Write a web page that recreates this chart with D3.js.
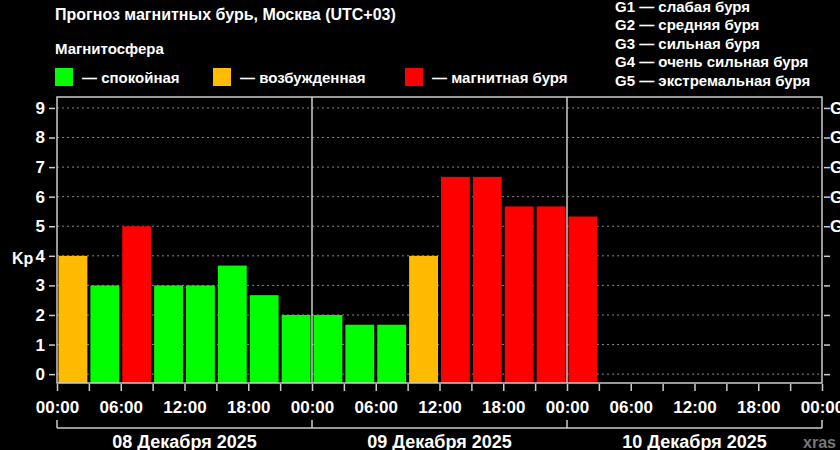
<!DOCTYPE html>
<html><head><meta charset="utf-8">
<script src="https://cdn.jsdelivr.net/npm/d3@7"></script>
<style>
body{margin:0;background:#000;}
text{font-family:"Liberation Sans",Arial,sans-serif;font-weight:bold;fill:#fff;}
.narrow{font-family:"Liberation Sans Narrow","Liberation Sans",Arial,sans-serif;}
</style></head>
<body><svg id="chart" width="840" height="450"></svg>
<script>
var kpValues = [4,3,5,3,3,3.67,2.67,2, 2,1.67,1.67,4,6.67,6.67,5.67,5.67, 5.33];
var dayLabels = ["08 Декабря 2025","09 Декабря 2025","10 Декабря 2025"];
var gLevels = ["G1 — слабая буря","G2 — средняя буря","G3 — сильная буря","G4 — очень сильная буря","G5 — экстремальная буря"];
var legendItems = [["— спокойная","#00ff00"],["— возбужденная","#ffbb00"],["— магнитная буря","#ff0000"]];
var hourLabels = ["00:00","06:00","12:00","18:00"];

var svg = d3.select("#chart");
var pLeft=57, pRight=822, pTop=97, pBottom=383;
var x = d3.scaleLinear().domain([0,72]).range([pLeft,pRight]); // часы
var y = d3.scaleLinear().domain([-0.3,9.37]).range([pBottom,pTop]);

function barColor(v){ return v>=5 ? "#ff0000" : (v>=4 ? "#ffbb00" : "#00ff00"); }

// заголовки
svg.append("text").attr("x",55).attr("y",20).attr("font-size",16).text("Прогноз магнитных бурь, Москва (UTC+03)");
svg.append("text").attr("x",55).attr("y",54).attr("font-size",15).text("Магнитосфера");
var legX=[55,213,405];
legendItems.forEach(function(d,i){
  svg.append("rect").attr("x",legX[i]).attr("y",68).attr("width",18).attr("height",18).attr("fill",d[1]);
  svg.append("text").attr("x",legX[i]+27).attr("y",83).attr("font-size",15).text(d[0]);
});
gLevels.forEach(function(d,i){
  svg.append("text").attr("x",615).attr("y",12+i*18.4).attr("font-size",15).text(d);
});

// сетка
svg.selectAll(".grid").data(d3.range(0,10)).enter().append("line")
  .attr("x1",pLeft).attr("x2",pRight).attr("y1",function(d){return y(d);}).attr("y2",function(d){return y(d);})
  .attr("stroke","#888").attr("stroke-dasharray","2,3").attr("stroke-width",1);

// столбцы
var bw = x(3)-x(0);
svg.selectAll(".bar").data(kpValues).enter().append("rect")
  .attr("x",function(d,i){return x(i*3)+1.5;})
  .attr("width",bw-3)
  .attr("y",function(d){return y(d);})
  .attr("height",function(d){return pBottom-y(d);})
  .attr("fill",barColor);

// рамка и разделители дней
svg.append("rect").attr("x",pLeft).attr("y",pTop).attr("width",pRight-pLeft).attr("height",pBottom-pTop)
  .attr("fill","none").attr("stroke","#ccc").attr("stroke-width",1.5);
[24,48].forEach(function(h){
  svg.append("line").attr("x1",x(h)).attr("x2",x(h)).attr("y1",pTop).attr("y2",pBottom).attr("stroke","#ccc").attr("stroke-width",1.5);
});

// оси Y
var yl = svg.append("g").attr("transform","translate("+(pLeft-2)+",0)")
  .call(d3.axisLeft(y).tickValues(d3.range(0,10)).tickSize(6).tickFormat(d3.format("d")));
yl.selectAll("text").attr("class","narrow").attr("font-size",17).attr("x",-10);
var yr = svg.append("g").attr("transform","translate("+(pRight+2)+",0)")
  .call(d3.axisRight(y).tickValues(d3.range(0,10)).tickSize(6).tickFormat(function(d){return d>=5?"G"+(d-4):"";}));
yr.selectAll("text").attr("font-size",17).attr("x",6);
svg.selectAll(".domain").remove();
svg.selectAll(".tick line").attr("stroke","#ccc").attr("stroke-width",1.5);
svg.append("text").attr("x",12).attr("y",264).attr("font-size",16).text("Kp");

// ось X
var xa = svg.append("g").attr("transform","translate(0,"+(pBottom+1)+")")
  .call(d3.axisBottom(x).tickValues(d3.range(0,73,3)).tickSize(7)
    .tickFormat(function(d){return d%6===0 ? hourLabels[(d%24)/6] : "";}));
xa.select(".domain").remove();
xa.selectAll("line").attr("stroke","#ccc").attr("stroke-width",1.5);
xa.selectAll("text").attr("class","narrow").attr("font-size",17).attr("dy","1.1em");

// скобки дней
var by=428;
svg.append("line").attr("x1",x(0)).attr("x2",x(72)).attr("y1",by).attr("y2",by).attr("stroke","#ccc").attr("stroke-width",1.5);
[0,24,48,72].forEach(function(h){
  svg.append("line").attr("x1",x(h)).attr("x2",x(h)).attr("y1",by-8).attr("y2",by).attr("stroke","#ccc").attr("stroke-width",1.5);
});
dayLabels.forEach(function(d,i){
  svg.append("text").attr("class","narrow").attr("x",x(i*24+12)).attr("y",448).attr("text-anchor","middle").attr("font-size",18).text(d);
});
svg.append("text").attr("class","narrow").attr("x",803).attr("y",448).attr("font-size",16).style("fill","#777").text("xras");
</script></body></html>
